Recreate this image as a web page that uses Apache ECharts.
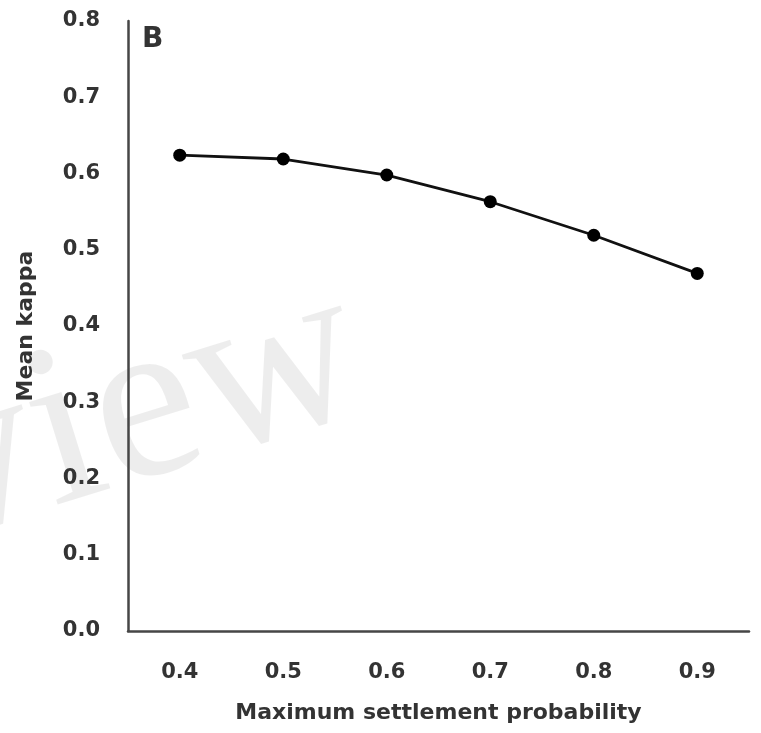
<!DOCTYPE html>
<html>
<head>
<meta charset="utf-8">
<script src="https://cdn.jsdelivr.net/npm/echarts@6/dist/echarts.min.js"></script>
<style>
  html, body { margin: 0; padding: 0; background: #fff; }
  #chart { width: 761px; height: 733px; }
</style>
</head>
<body>
<div id="chart"></div>
<script>
// Maximum settlement probability (x categories)
const categories = ['0.4', '0.5', '0.6', '0.7', '0.8', '0.9'];
// Mean kappa at each probability
const meanKappa = [0.624, 0.619, 0.598, 0.563, 0.519, 0.469];
// Y axis range
const yMin = 0, yMax = 0.8, yStep = 0.1;

const textColor = '#333';
const axisColor = '#464646';
const font = 'DejaVu Sans';

const chart = echarts.init(document.getElementById('chart'), null, { renderer: 'canvas' });
chart.setOption({
  backgroundColor: '#fff',
  animation: false,
  grid: { left: 128, right: 12, top: 21, bottom: 102, containLabel: false, outerBoundsMode: 'none' },
  graphic: [
    {
      type: 'text',
      left: -110, top: 238,
      rotation: 0.3,
      z: -10,
      style: {
        text: 'view',
        font: '232px "Liberation Serif", serif',
        fill: 'rgba(0,0,0,0.07)'
      }
    },
    {
      type: 'text',
      left: 142, top: 26,
      style: { text: 'B', font: 'bold 28px "DejaVu Sans"', fill: textColor }
    }
  ],
  xAxis: {
    type: 'category',
    data: categories,
    boundaryGap: true,
    name: 'Maximum settlement probability',
    nameLocation: 'middle',
    nameGap: 71,
    nameTextStyle: { color: textColor, fontSize: 22, fontWeight: 'bold', fontFamily: font },
    axisLine: { show: true, lineStyle: { color: axisColor, width: 2.5 } },
    axisTick: { show: false },
    axisLabel: { color: textColor, fontSize: 21, fontWeight: 'bold', fontFamily: font, margin: 31 },
    splitLine: { show: false }
  },
  yAxis: {
    type: 'value',
    min: yMin, max: yMax, interval: yStep,
    name: 'Mean kappa',
    nameLocation: 'middle',
    nameGap: 91,
    nameRotate: 90,
    nameTextStyle: { color: textColor, fontSize: 22, fontWeight: 'bold', fontFamily: font },
    axisLine: { show: true, lineStyle: { color: axisColor, width: 2.5 } },
    axisTick: { show: false },
    axisLabel: {
      color: textColor, fontSize: 21, fontWeight: 'bold', fontFamily: font, margin: 28,
      formatter: v => v.toFixed(1)
    },
    splitLine: { show: false }
  },
  series: [{
    type: 'line',
    data: meanKappa,
    symbol: 'circle',
    symbolSize: 13,
    itemStyle: { color: '#000' },
    lineStyle: { color: '#111', width: 2.8 }
  }]
});
</script>
</body>
</html>
